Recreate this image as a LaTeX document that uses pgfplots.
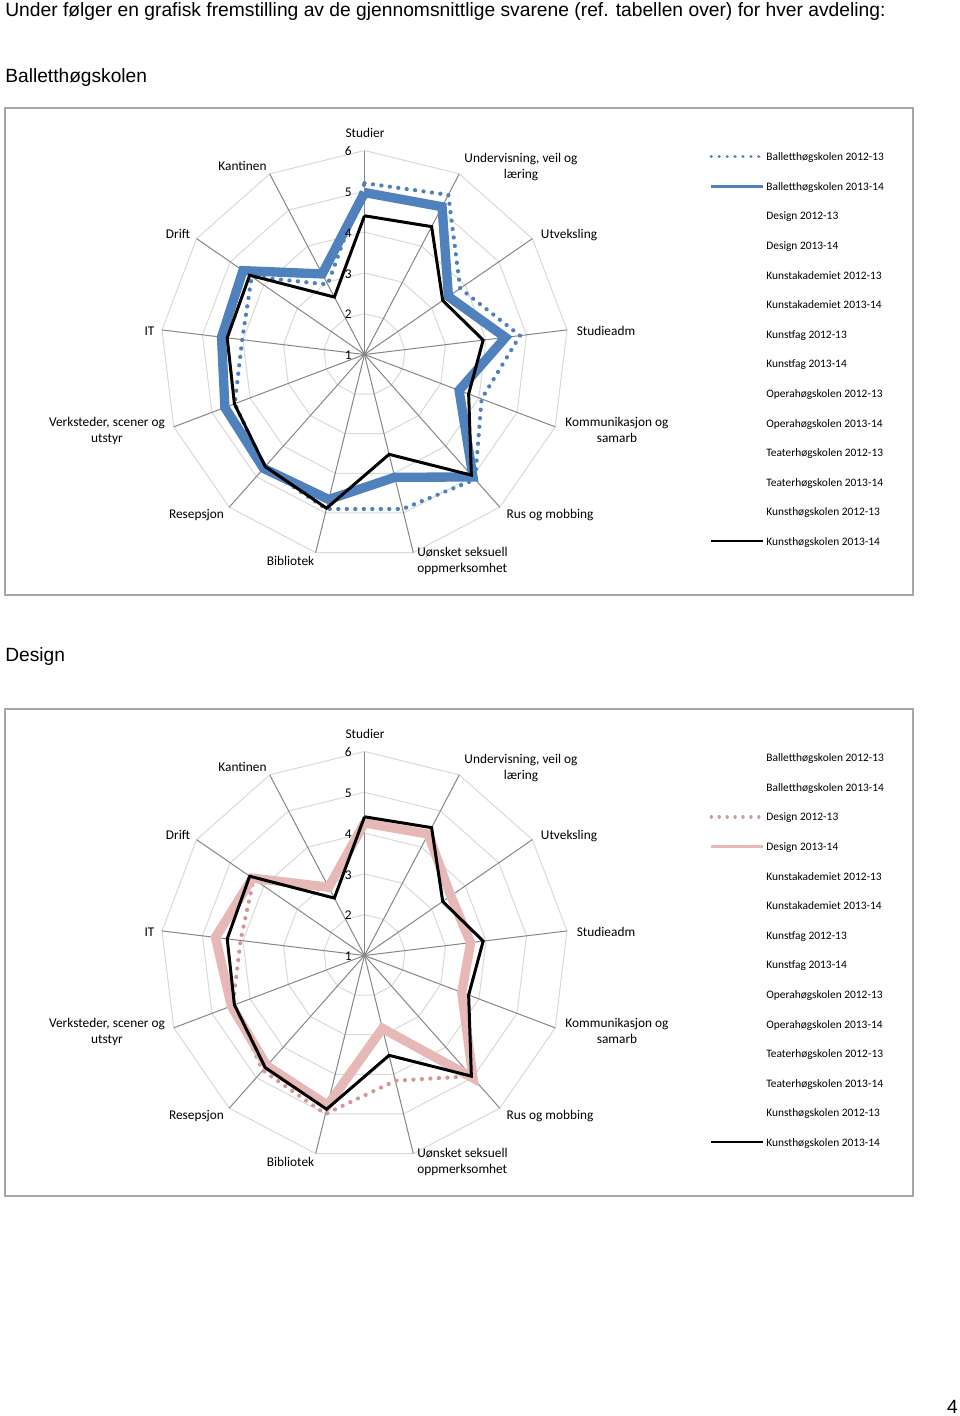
\documentclass[border=0pt]{standalone}
\usepackage{pgfplots}
\pgfplotsset{compat=1.18}
\usepackage{pgfplotstable}
\usepackage{fontspec}
\setmainfont{Liberation Sans}
\newfontfamily\carlito{Carlito}
\definecolor{balblue}{RGB}{79,129,189}
\definecolor{despinkd}{RGB}{214,150,150}
\definecolor{despink}{RGB}{230,185,184}
\definecolor{ringgray}{RGB}{217,217,217}
\definecolor{spokegray}{RGB}{134,134,134}
\definecolor{framegray}{RGB}{166,166,166}

% angle (deg, clockwise from top) and values
% order: Studier, Undervisning, Utveksling, Studieadm, Kommunikasjon, Rus, Uonsket,
% Bibliotek, Resepsjon, Verksteder, IT, Drift, Kantinen, (closing)
\pgfplotstableread{
a bal12 bal13 kh13 des12 des13
90 5.20 4.97 4.40 4.25 4.25
62.3077 5.42 5.09 4.54 4.36 4.36
34.6154 3.85 3.50 3.33 3.57 3.57
6.9231 4.84 4.48 3.93 3.62 3.62
-20.7692 4.07 3.48 3.73 3.55 3.55
-48.4615 5.09 5.01 4.95 4.95 5.01
-76.1538 4.90 4.10 3.52 4.16 2.84
-103.8462 4.90 4.66 4.88 5.00 4.78
-131.5385 4.70 4.73 4.67 4.76 4.61
-159.2308 4.40 4.66 4.41 4.45 4.49
-186.9231 4.02 4.53 4.39 4.06 4.68
-214.6154 4.36 4.62 4.42 4.30 4.34
-242.3077 2.94 3.23 2.59 2.89 2.89
-270 5.20 4.97 4.40 4.25 4.25
}\radardata

\pgfplotsset{radar/.style={hide axis, x=24.48pt, y=24.48pt,
  xmin=-5, xmax=5, ymin=-5, ymax=5, clip=false, anchor=center,
  data cs=polar,
  legend cell align=left,
  legend style={at={(1.3456,0.9953)}, anchor=north west, draw=none, fill=none,
    inner sep=0pt, outer sep=0pt, row sep=11.25pt, column sep=0.8pt,
    font=\carlito\fontsize{6.85}{8}\selectfont,
    nodes={inner sep=0pt, text height=5pt, text depth=1.5pt}},
  legend image code/.code={\draw[##1] (0pt,0.65pt) -- (31.2pt,0.65pt);}
}}

\newcommand\radargrid{%
  \pgfplotsinvokeforeach{1,2,3,4,5}{%
    \addplot[ringgray, line width=0.6pt, forget plot] table[x=a, y expr=##1]{\radardata};}
  \pgfplotsinvokeforeach{90,62.3077,34.6154,6.9231,-20.7692,-48.4615,-76.1538,-103.8462,-131.5385,-159.2308,-186.9231,-214.6154,-242.3077}{%
    \addplot[spokegray, line width=0.6pt, forget plot] coordinates {(##1,0) (##1,5)};}
}

\newcommand\radarlegendnames{\legend{Balletthøgskolen 2012-13,Balletthøgskolen 2013-14,Design 2012-13,Design 2013-14,Kunstakademiet 2012-13,Kunstakademiet 2013-14,Kunstfag 2012-13,Kunstfag 2013-14,Operahøgskolen 2012-13,Operahøgskolen 2013-14,Teaterhøgskolen 2012-13,Teaterhøgskolen 2013-14,Kunsthøgskolen 2012-13,Kunsthøgskolen 2013-14}}

\tikzset{lab/.style={anchor=base, inner sep=0pt, font=\carlito\fontsize{8}{9.6}\selectfont},
  num/.style={anchor=base east, inner sep=0pt, font=\carlito\fontsize{8}{9.6}\selectfont}}

\newcommand\radarlabels[1]{%
  \node[lab] at (365,{137.3+#1}) {Studier};
  \node[lab] at (521,{162.7+#1}) {Undervisning, veil og};
  \node[lab] at (521,{178.7+#1}) {læring};
  \node[lab] at (569,{238.3+#1}) {Utveksling};
  \node[lab] at (606,{335+#1}) {Studieadm};
  \node[lab] at (617,{426.5+#1}) {Kommunikasjon og};
  \node[lab] at (617,{442.5+#1}) {samarb};
  \node[lab] at (550,{518.3+#1}) {Rus og mobbing};
  \node[lab, anchor=base west] at (417,{556.7+#1}) {Uønsket seksuell};
  \node[lab, anchor=base west] at (417,{572.7+#1}) {oppmerksomhet};
  \node[lab] at (290.5,{565.7+#1}) {Bibliotek};
  \node[lab] at (196.5,{518.3+#1}) {Resepsjon};
  \node[lab] at (107,{426.5+#1}) {Verksteder, scener og};
  \node[lab] at (107,{442.5+#1}) {utstyr};
  \node[lab] at (149.5,{335+#1}) {IT};
  \node[lab] at (178,{238.3+#1}) {Drift};
  \node[lab] at (242.5,{170.7+#1}) {Kantinen};
  \node[num] at (352,{155.7+#1}) {6};
  \node[num] at (352,{196.5+#1}) {5};
  \node[num] at (352,{237.3+#1}) {4};
  \node[num] at (352,{278.1+#1}) {3};
  \node[num] at (352,{318.9+#1}) {2};
  \node[num] at (352,{359.7+#1}) {1};
}

\begin{document}
\begin{tikzpicture}
\path[use as bounding box, fill=white] (0,0) rectangle (576pt,-849.6pt);
\begin{scope}[x=0.6pt,y=-0.6pt]
  \node[anchor=base west, inner sep=0pt, font=\fontsize{11.55}{14}\selectfont] at (5,16) {Under følger en grafisk fremstilling av de gjennomsnittlige svarene (ref. tabellen over) for hver avdeling:};
  \node[anchor=base west, inner sep=0pt, font=\fontsize{11.5}{14}\selectfont] at (5,82.7) {Balletthøgskolen};
  \node[anchor=base west, inner sep=0pt, font=\fontsize{11.5}{14}\selectfont] at (5,661.5) {Design};
  \node[anchor=base east, inner sep=0pt, font=\fontsize{11.5}{14}\selectfont] at (958,1413) {4};
  \draw[framegray, line width=0.8pt] (5,108) rectangle (913,595);
  \draw[framegray, line width=0.8pt] (5,709) rectangle (913,1196);
\end{scope}

% ---------- Balletthogskolen ----------
\begin{axis}[radar, at={(218.7pt,-212.7pt)}]
  \radargrid
  \addplot[balblue, line width=2.5pt, dash pattern=on 0.1pt off 5pt, line cap=round, line join=round, forget plot]
    table[x=a, y expr=\thisrow{bal12}-1]{\radardata};
  \addplot[balblue, line width=5.6pt, forget plot]
    table[x=a, y expr=\thisrow{bal13}-1]{\radardata};
  \addplot[black, line width=1.8pt, forget plot]
    table[x=a, y expr=\thisrow{kh13}-1]{\radardata};
  \addlegendimage{balblue, line width=1.9pt, dash pattern=on 0.1pt off 4.65pt, line cap=round}
  \addlegendimage{balblue, line width=2.1pt}
  \addlegendimage{empty legend}
  \addlegendimage{empty legend}
  \addlegendimage{empty legend}
  \addlegendimage{empty legend}
  \addlegendimage{empty legend}
  \addlegendimage{empty legend}
  \addlegendimage{empty legend}
  \addlegendimage{empty legend}
  \addlegendimage{empty legend}
  \addlegendimage{empty legend}
  \addlegendimage{empty legend}
  \addlegendimage{black, line width=1.2pt}
  \radarlegendnames
\end{axis}

% ---------- Design ----------
\begin{axis}[radar, at={(218.7pt,-573.3pt)}]
  \radargrid
  \addplot[despinkd, line width=2.5pt, dash pattern=on 0.1pt off 5pt, line cap=round, line join=round, forget plot]
    table[x=a, y expr=\thisrow{des12}-1]{\radardata};
  \addplot[despink, line width=5.6pt, forget plot]
    table[x=a, y expr=\thisrow{des13}-1]{\radardata};
  \addplot[black, line width=1.8pt, forget plot]
    table[x=a, y expr=\thisrow{kh13}-1]{\radardata};
  \addlegendimage{empty legend}
  \addlegendimage{empty legend}
  \addlegendimage{despinkd, line width=1.9pt, dash pattern=on 0.1pt off 4.65pt, line cap=round}
  \addlegendimage{despink, line width=2.1pt}
  \addlegendimage{empty legend}
  \addlegendimage{empty legend}
  \addlegendimage{empty legend}
  \addlegendimage{empty legend}
  \addlegendimage{empty legend}
  \addlegendimage{empty legend}
  \addlegendimage{empty legend}
  \addlegendimage{empty legend}
  \addlegendimage{empty legend}
  \addlegendimage{black, line width=1.2pt}
  \radarlegendnames
\end{axis}

\begin{scope}[x=0.6pt,y=-0.6pt]
  \radarlabels{0}
  \radarlabels{601}
\end{scope}
\end{tikzpicture}
\end{document}
